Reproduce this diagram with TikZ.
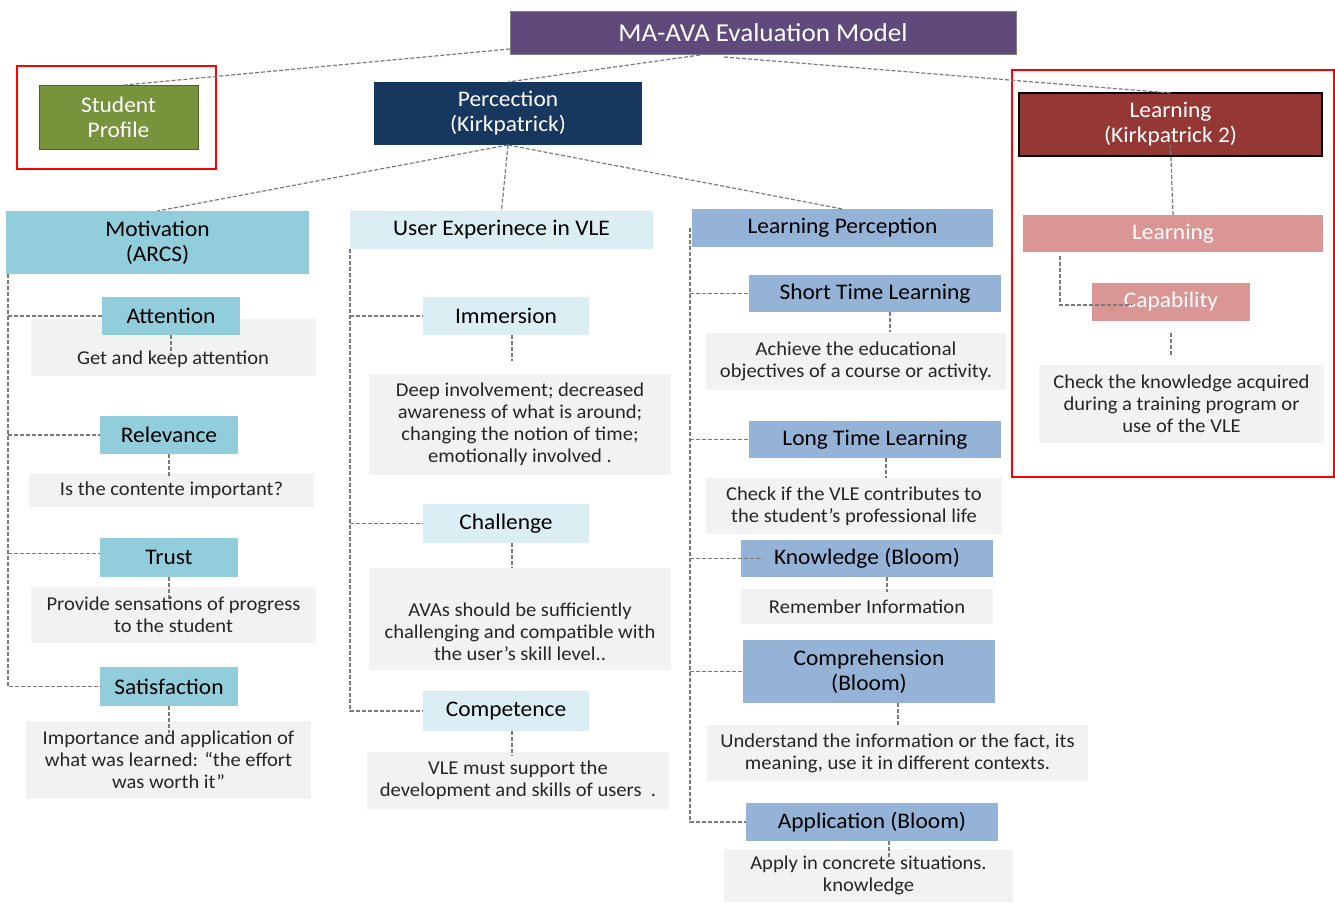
\documentclass[tikz,border=0pt]{standalone}
\usepackage{fontspec}
\setmainfont{Carlito}[FakeStretch=1.05]
\usetikzlibrary{calc}
\definecolor{cpurple}{HTML}{604A7B}
\definecolor{cgreen}{HTML}{77933C}
\definecolor{cgreenb}{HTML}{4F6228}
\definecolor{cnavy}{HTML}{17375E}
\definecolor{cmaroon}{HTML}{953735}
\definecolor{caqua}{HTML}{92CDDC}
\definecolor{cpaleaqua}{HTML}{DBEEF4}
\definecolor{csteel}{HTML}{95B3D7}
\definecolor{cpink}{HTML}{D99694}
\definecolor{cgrey}{HTML}{F2F2F2}
\definecolor{cline}{HTML}{7A7A7A}
\definecolor{ctext}{HTML}{262626}
\tikzset{
  bx/.style={rectangle, inner sep=0pt, outer sep=0pt, align=center, anchor=north west},
  ttl/.style={bx, fill=cpurple, draw=gray, line width=0.8pt, text=white, font=\fontsize{25.8}{30}\selectfont},
  lbl/.style={bx, font=\fontsize{22.3}{25}\selectfont, text=black},
  lblw/.style={lbl, text=white},
  desc/.style={bx, fill=cgrey, text=ctext, font=\fontsize{19.6}{22}\selectfont},
  dtext/.style={inner sep=0pt, align=center, text=ctext, font=\fontsize{19.6}{22}\selectfont},
  frame/.style={draw=red, line width=2pt},
  conn/.style={draw=cline, line width=1.2pt, dash pattern=on 4pt off 2pt},
}
\newcommand\bx[7]{\node[#2, minimum width={#5-#3}, minimum height={#6-#4}] (#1) at (#3,#4) {#7};}
\begin{document}
\begin{tikzpicture}[x=1pt,y=-1pt]
\useasboundingbox (0,0) rectangle (1335,902);
% frames
\bx{spframe}{bx, frame}{17}{66}{216}{169}{}
\bx{kframe}{bx, frame}{1012}{70}{1334}{477}{}
% top
\bx{title}{ttl}{510}{11}{1016}{54}{MA-AVA Evaluation Model}
\bx{sp}{lblw, fill=cgreen, draw=cgreenb, line width=1pt}{39}{85}{198}{149}{Student\\Profile}
\bx{perc}{lblw, fill=cnavy}{374}{82}{642}{145}{Percection\\(Kirkpatrick)}
\bx{k2}{lblw, fill=cmaroon, draw=black, line width=1.3pt}{1019}{93}{1322}{156}{Learning\\(Kirkpatrick 2)}
% level 2
\bx{mot}{lbl, fill=caqua}{6}{211}{309}{274}{Motivation\\(ARCS)}
\bx{ux}{lbl, fill=cpaleaqua}{350}{211}{653}{249}{User Experinece in VLE}
\bx{lp}{lbl, fill=csteel}{692}{209}{993}{247}{Learning Perception}
\bx{pl}{lblw, fill=cpink}{1023}{215}{1323}{252}{Learning}
\bx{chk}{desc}{1039}{365}{1324}{443}{Check the knowledge acquired\\during a training program or\\use of the VLE}
\bx{cap}{lblw, fill=cpink}{1092}{283}{1250}{321}{Capability}
% column 1 descriptions
\bx{attd}{desc}{31}{319}{316}{376}{}
\node[dtext] (attt) at (173,359) {Get and keep attention};
\bx{reld}{desc}{29}{473}{314}{507}{Is the contente important?}
\bx{trud}{desc}{31}{587}{316}{643}{Provide sensations of progress\\to the student}
\bx{satd}{desc}{26}{721}{311}{799}{Importance and application of\\what was learned: “the effort\\was worth it”}
% column 1 labels
\bx{att}{lbl, fill=caqua}{102}{297}{240}{335}{Attention}
\bx{rel}{lbl, fill=caqua}{100}{416}{238}{454}{Relevance}
\bx{tru}{lbl, fill=caqua}{100}{538}{238}{577}{Trust}
\bx{sat}{lbl, fill=caqua}{100}{667}{238}{706}{Satisfaction}
% column 2
\bx{imd}{desc}{369}{374}{671}{475}{Deep involvement; decreased\\awareness of what is around;\\changing the notion of time;\\emotionally involved .}
\bx{chd}{desc}{369}{568}{671}{670}{}
\node[dtext] (cht) at (520,632) {AVAs should be sufficiently\\challenging and compatible with\\the user's skill level..};
\bx{cod}{desc}{367}{752}{669}{809}{VLE must support the\\development and skills of users\ \ .}
\bx{im}{lbl, fill=cpaleaqua}{423}{297}{589}{335}{Immersion}
\bx{ch}{lbl, fill=cpaleaqua}{423}{504}{589}{543}{Challenge}
\bx{co}{lbl, fill=cpaleaqua}{423}{691}{589}{731}{Competence}
% column 3
\bx{std}{desc}{706}{333}{1006}{390}{Achieve the educational\\objectives of a course or activity.}
\bx{ltd}{desc}{706}{478}{1002}{534}{Check if the VLE contributes to\\the student's professional life}
\bx{knd}{desc}{741}{589}{993}{624}{Remember Information}
\bx{cmd}{desc}{707}{725}{1088}{781}{Understand the information or the fact, its\\meaning, use it in different contexts.}
\bx{apd}{desc}{724}{849}{1013}{902}{Apply in concrete situations.\\knowledge}
\bx{st}{lbl, fill=csteel}{749}{275}{1001}{312}{Short Time Learning}
\bx{lt}{lbl, fill=csteel}{749}{421}{1001}{458}{Long Time Learning}
\bx{kn}{lbl, fill=csteel}{741}{540}{993}{577}{Knowledge (Bloom)}
\bx{cm}{lbl, fill=csteel}{743}{640}{995}{703}{Comprehension\\(Bloom)}
\bx{ap}{lbl, fill=csteel}{746}{803}{998}{841}{Application (Bloom)}
% connectors top
\draw[conn] ($(title.south west)+(0,-5)$) -- ($(sp.north)+(6,0)$);
\draw[conn] ($(title.south)+(-63,1)$) -- (perc.north);
\draw[conn] ($(title.south)+(-39,3)$) -- (k2.north);
\draw[conn] (perc.south) -- (mot.north);
\draw[conn] (perc.south) -- (ux.north);
\draw[conn] (perc.south) -- (lp.north);
\draw[conn] ($(k2.south)+(0,-11)$) -- (pl.north);
\draw[conn] ($(pl.south west)+(37,4)$) |- ($(cap.west)+(40,3)$);
\draw[conn] ($(cap.south)+(0,12)$) -- ++(0,23);
% column 1 connectors
\coordinate (s1) at ($(mot.south west)+(2,0)$);
\draw[conn] (s1) |- (sat.west);
\draw[conn] (s1 |- att.west) -- (att.west);
\draw[conn] (s1 |- rel.west) -- (rel.west);
\draw[conn] ($(s1 |- tru.west)+(0,-4)$) -- ($(tru.west)+(0,-4)$);
\draw[conn] (att.south) -- ++(0,20);
\draw[conn] (rel.south) -- ++(0,24);
\draw[conn] (tru.south) -- ++(0,23);
\draw[conn] (sat.south) -- ++(0,27);
% column 2 connectors
\coordinate (s2) at (ux.south west);
\draw[conn] (s2) |- (co.west);
\draw[conn] (s2 |- im.west) -- (im.west);
\draw[conn] (s2 |- ch.west) -- (ch.west);
\draw[conn] ($(im.south)+(6,0)$) -- ++(0,26);
\draw[conn] ($(ch.south)+(6,0)$) -- ++(0,25);
\draw[conn] ($(co.south)+(6,0)$) -- ++(0,25);
% column 3 connectors
\coordinate (s3) at ($(lp.west)+(-2,0)$);
\draw[conn] (s3) |- (ap.west);
\draw[conn] (s3 |- st.west) -- (st.west);
\draw[conn] (s3 |- lt.west) -- (lt.west);
\draw[conn] (s3 |- kn.west) -- ($(kn.west)+(22,0)$);
\draw[conn] (s3 |- cm.west) -- (cm.west);
\draw[conn] ($(st.south)+(15,0)$) -- ++(0,20);
\draw[conn] ($(lt.south)+(11,0)$) -- ++(0,20);
\draw[conn] ($(kn.south)+(20,0)$) -- ++(0,15);
\draw[conn] ($(cm.south)+(29,0)$) -- ++(0,22);
\draw[conn] ($(ap.south)+(17,0)$) -- ++(0,18);
\end{tikzpicture}
\end{document}
